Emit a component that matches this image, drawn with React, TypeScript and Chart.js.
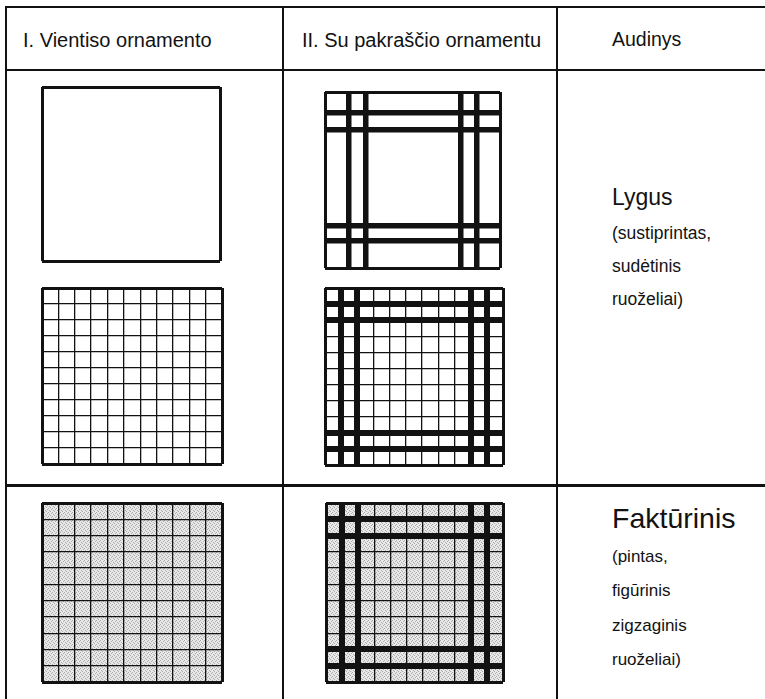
import React, { useEffect, useRef } from "react";
import { Chart, registerables } from "chart.js";
Chart.register(...registerables);

// ---------- texts ----------
const headerLabels = ["I. Vientiso ornamento", "II. Su pakraščio ornamentu", "Audinys"];
const lygusTitle = "Lygus";
const lygusLines = ["(sustiprintas,", "sudėtinis", "ruoželiai)"];
const fakturinisTitle = "Faktūrinis";
const fakturinisLines = ["(pintas,", "figūrinis", "zigzaginis", "ruoželiai)"];

// ---------- pattern line values (pattern units) ----------
const plainEdges = [0, 1];
const gridCells = [0, 1, 2, 3, 4, 5, 6, 7, 8, 9, 10, 11];
const gridBorderBands = [1, 2, 9, 10];
const stripeX = [0, 0.135, 0.23, 0.777, 0.869, 1];
const stripeY = [0, 0.117, 0.212, 0.758, 0.847, 1];
const stripeBandsX = [0.135, 0.23, 0.777, 0.869];
const stripeBandsY = [0.117, 0.212, 0.758, 0.847];

type Spec = {
  max: number;
  xLines: number[];
  yLines: number[];
  xThick: number[];
  yThick: number[];
  shaded: boolean;
  band: number;
};

const specs: Record<string, Spec> = {
  plain: { max: 1, xLines: plainEdges, yLines: plainEdges, xThick: [], yThick: [], shaded: false, band: 0 },
  stripes: { max: 1, xLines: stripeX, yLines: stripeY, xThick: stripeBandsX, yThick: stripeBandsY, shaded: false, band: 5.5 },
  grid: { max: 11, xLines: gridCells, yLines: gridCells, xThick: [], yThick: [], shaded: false, band: 0 },
  gridBorder: { max: 11, xLines: gridCells, yLines: gridCells, xThick: gridBorderBands, yThick: gridBorderBands, shaded: false, band: 6 },
  gridShaded: { max: 11, xLines: gridCells, yLines: gridCells, xThick: [], yThick: [], shaded: true, band: 0 },
  gridBorderShaded: { max: 11, xLines: gridCells, yLines: gridCells, xThick: gridBorderBands, yThick: gridBorderBands, shaded: true, band: 6 },
};

const FONT = '"Liberation Sans", Arial, Helvetica, sans-serif';
const INK = "#121212";

let stipple: CanvasPattern | null = null;
function getStipple(ctx: CanvasRenderingContext2D) {
  if (stipple) return stipple;
  const c = document.createElement("canvas");
  c.width = 4;
  c.height = 4;
  const g = c.getContext("2d")!;
  g.fillStyle = "#e8e8e8";
  g.fillRect(0, 0, 4, 4);
  g.fillStyle = "#ababab";
  [[0, 0], [2, 1], [1, 2], [3, 3]].forEach(([x, y]) => g.fillRect(x, y, 1, 1));
  stipple = ctx.createPattern(c, "repeat");
  return stipple;
}

const shadePlugin = {
  id: "shade",
  beforeDraw(chart: any, _args: any, opts: any) {
    if (!opts || !opts.on) return;
    const { ctx, chartArea: a } = chart;
    ctx.save();
    ctx.fillStyle = getStipple(ctx) || "#d8d8d8";
    ctx.fillRect(a.left, a.top, a.width, a.height);
    ctx.restore();
  },
};

function axis(lines: number[], thick: number[], max: number, reverse: boolean, band: number) {
  return {
    type: "linear" as const,
    min: 0,
    max,
    reverse,
    display: true,
    ticks: { display: false },
    border: { display: false },
    grid: {
      drawTicks: false,
      color: INK,
      lineWidth: (c: any) => {
        const v = c.tick ? c.tick.value : 0;
        if (thick.includes(v)) return band;
        if (v === 0 || v === max) return 3;
        return 1.3;
      },
    },
    afterBuildTicks: (scale: any) => {
      scale.ticks = lines.map((v) => ({ value: v }));
    },
  };
}

function Pattern({ x, y, w, h, spec }: { x: number; y: number; w: number; h: number; spec: Spec }) {
  const ref = useRef<HTMLCanvasElement>(null);
  const pad = 4;
  useEffect(() => {
    if (!ref.current) return;
    const chart = new Chart(ref.current, {
      type: "scatter",
      data: { datasets: [] },
      options: {
        responsive: false,
        animation: false,
        devicePixelRatio: 1,
        layout: { padding: pad },
        plugins: { legend: { display: false }, tooltip: { enabled: false }, shade: { on: spec.shaded } } as any,
        scales: {
          x: axis(spec.xLines, spec.xThick, spec.max, false, spec.band),
          y: axis(spec.yLines, spec.yThick, spec.max, true, spec.band),
        } as any,
      },
      plugins: [shadePlugin],
    });
    return () => chart.destroy();
  }, [spec]);
  return (
    <canvas
      ref={ref}
      width={w + 2 * pad}
      height={h + 2 * pad}
      style={{ position: "absolute", left: x - pad, top: y - pad, width: w + 2 * pad, height: h + 2 * pad }}
    />
  );
}

function Line({ x, y, w, h }: { x: number; y: number; w: number; h: number }) {
  return <div style={{ position: "absolute", left: x, top: y, width: w, height: h, background: INK }} />;
}

function Text({
  x,
  cy,
  size,
  spacing = 0,
  children,
}: {
  x: number;
  cy: number;
  size: number;
  spacing?: number;
  children: React.ReactNode;
}) {
  return (
    <div
      style={{
        position: "absolute",
        left: x,
        top: cy - size / 2,
        fontSize: size,
        lineHeight: `${size}px`,
        fontFamily: FONT,
        color: INK,
        whiteSpace: "nowrap",
        letterSpacing: spacing,
      }}
    >
      {children}
    </div>
  );
}

export default function App() {
  return (
    <div
      style={{
        position: "absolute",
        left: 0,
        top: 0,
        width: 765,
        height: 699,
        background: "#fff",
        overflow: "hidden",
      }}
    >
      {/* table rules */}
      <Line x={5} y={6} w={760} h={2} />
      <Line x={5} y={69} w={760} h={2} />
      <Line x={5} y={484} w={760} h={2.5} />
      <Line x={5} y={6} w={2} h={693} />
      <Line x={282} y={6} w={2} h={693} />
      <Line x={556} y={6} w={2} h={693} />

      {/* headers */}
      <Text x={23} cy={40} size={20}>{headerLabels[0]}</Text>
      <Text x={302} cy={40} size={20}>{headerLabels[1]}</Text>
      <Text x={612} cy={40} size={19.5}>{headerLabels[2]}</Text>

      {/* patterns */}
      <Pattern x={42} y={87} w={178} h={174} spec={specs.plain} />
      <Pattern x={325} y={92} w={175} h={176} spec={specs.stripes} />
      <Pattern x={42} y={288} w={180} h={176} spec={specs.grid} />
      <Pattern x={325} y={288} w={178} h={177} spec={specs.gridBorder} />
      <Pattern x={42} y={503} w={180} h={179} spec={specs.gridShaded} />
      <Pattern x={326} y={503} w={177} h={179} spec={specs.gridBorderShaded} />

      {/* fabric descriptions */}
      <Text x={612} cy={197} size={23}>{lygusTitle}</Text>
      {lygusLines.map((t, i) => (
        <Text key={t} x={612} cy={234 + i * 33} size={17.5}>{t}</Text>
      ))}
      <Text x={612} cy={518} size={28.5}>{fakturinisTitle}</Text>
      {fakturinisLines.map((t, i) => (
        <Text key={t + i} x={612} cy={556 + i * 34.5} size={17}>{t}</Text>
      ))}
    </div>
  );
}
